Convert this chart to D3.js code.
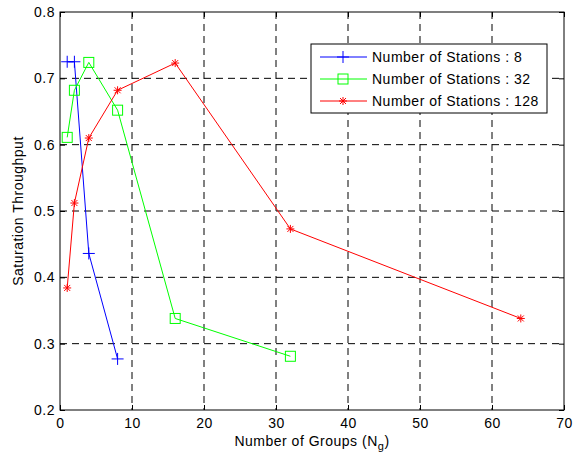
<!DOCTYPE html>
<html lang="en">
<head>
    <meta charset="UTF-8">
    <title>Saturation Throughput</title>
    <script src="https://d3js.org/d3.v7.min.js"></script>
    <style>
        body { margin: 0; background: #fff; }
        text { font-family: "Liberation Sans", Arial, sans-serif; letter-spacing: 0.5px; }
    </style>
</head>
<body>
<div id="chart"></div>
<script>
    // number of groups for each series
    var groups8 = [1, 2, 4, 8];
    var groups32 = [1, 2, 4, 8, 16, 32];
    var groups128 = [1, 2, 4, 8, 16, 32, 64];

    // saturation throughput values
    var thr8 = [0.725, 0.725, 0.436, 0.277];
    var thr32 = [0.611, 0.682, 0.724, 0.652, 0.338, 0.281];
    var thr128 = [0.384, 0.512, 0.610, 0.682, 0.723, 0.473, 0.338];

    var seriesNames = ["Number of Stations : 8", "Number of Stations : 32", "Number of Stations : 128"];
    var xTicks = [0, 10, 20, 30, 40, 50, 60, 70];
    var yTicks = [0.2, 0.3, 0.4, 0.5, 0.6, 0.7, 0.8];

    var series = [
        {name: seriesNames[0], xs: groups8, ys: thr8, color: "#0000ff", marker: "plus"},
        {name: seriesNames[1], xs: groups32, ys: thr32, color: "#00ff00", marker: "square"},
        {name: seriesNames[2], xs: groups128, ys: thr128, color: "#ff0000", marker: "star"}
    ];

    var W = 582, H = 457;
    var margin = {top: 12, right: 18, bottom: 47, left: 60};
    var width = W - margin.left - margin.right,
        height = H - margin.top - margin.bottom;

    var x = d3.scaleLinear().domain([0, 70]).range([0, width]);
    var y = d3.scaleLinear().domain([0.2, 0.8]).range([height, 0]);

    var svg = d3.select("#chart").append("svg")
        .attr("width", W)
        .attr("height", H);
    var g = svg.append("g")
        .attr("transform", "translate(" + margin.left + "," + margin.top + ")");

    // dashed grid
    g.append("g").selectAll("line").data(xTicks.slice(1, -1)).enter().append("line")
        .attr("x1", function (d) { return x(d); }).attr("x2", function (d) { return x(d); })
        .attr("y1", 0).attr("y2", height)
        .attr("stroke", "#000").attr("stroke-width", 1).attr("stroke-dasharray", "7,5");
    g.append("g").selectAll("line").data(yTicks.slice(1, -1)).enter().append("line")
        .attr("y1", function (d) { return y(d); }).attr("y2", function (d) { return y(d); })
        .attr("x1", 0).attr("x2", width)
        .attr("stroke", "#000").attr("stroke-width", 1).attr("stroke-dasharray", "7,5");

    // axes with inward ticks on all four sides
    function styleAxis(sel) {
        sel.select(".domain").remove();
        sel.selectAll("text").attr("font-size", 14).attr("fill", "#000")
            .attr("font-family", "Liberation Sans, Arial, sans-serif");
        sel.selectAll("line").attr("stroke", "#000");
    }
    g.append("g").attr("transform", "translate(0," + height + ")")
        .call(d3.axisBottom(x).tickValues(xTicks).tickSize(-5).tickPadding(8).tickFormat(d3.format("d")))
        .call(styleAxis);
    g.append("g")
        .call(d3.axisLeft(y).tickValues(yTicks).tickSize(-5).tickPadding(5).tickFormat(d3.format(".1f")))
        .call(styleAxis);
    g.append("g")
        .call(d3.axisTop(x).tickValues(xTicks).tickSize(-5).tickFormat(""))
        .call(styleAxis);
    g.append("g").attr("transform", "translate(" + width + ",0)")
        .call(d3.axisRight(y).tickValues(yTicks).tickSize(-5).tickFormat(""))
        .call(styleAxis);

    g.append("rect").attr("width", width).attr("height", height)
        .attr("fill", "none").attr("stroke", "#000").attr("stroke-width", 1);

    // markers
    function drawMarker(sel, type, color) {
        if (type === "plus") {
            sel.append("path").attr("d", "M-6,0H6M0,-6V6");
        } else if (type === "square") {
            sel.append("rect").attr("x", -5).attr("y", -5).attr("width", 10).attr("height", 10);
        } else {
            sel.append("path").attr("d", "M-4,0H4M0,-4V4M-3,-3L3,3M-3,3L3,-3");
        }
        sel.selectAll("path,rect").attr("fill", "none").attr("stroke", color).attr("stroke-width", 1);
    }

    var line = d3.line()
        .x(function (d) { return x(d[0]); })
        .y(function (d) { return y(d[1]); });

    series.forEach(function (s) {
        var pts = s.xs.map(function (v, i) { return [v, s.ys[i]]; });
        g.append("path").datum(pts)
            .attr("d", line)
            .attr("fill", "none").attr("stroke", s.color).attr("stroke-width", 1);
        pts.forEach(function (p) {
            var m = g.append("g").attr("transform", "translate(" + x(p[0]) + "," + y(p[1]) + ")");
            drawMarker(m, s.marker, s.color);
        });
    });

    // legend
    var lg = svg.append("g").attr("transform", "translate(311,44)");
    lg.append("rect").attr("width", 236).attr("height", 69)
        .attr("fill", "#fff").attr("stroke", "#000").attr("stroke-width", 1);
    series.forEach(function (s, i) {
        var yy = 13 + i * 22;
        lg.append("line").attr("x1", 9).attr("x2", 56).attr("y1", yy).attr("y2", yy)
            .attr("stroke", s.color).attr("stroke-width", 1);
        var m = lg.append("g").attr("transform", "translate(32," + yy + ")");
        drawMarker(m, s.marker, s.color);
        lg.append("text").attr("x", 61).attr("y", yy + 5)
            .attr("font-size", 14).text(s.name);
    });

    // axis labels
    var xl = svg.append("text")
        .attr("x", margin.left + width / 2).attr("y", 446)
        .attr("text-anchor", "middle").attr("font-size", 14);
    xl.append("tspan").text("Number of Groups (N");
    xl.append("tspan").attr("font-size", 11).attr("dy", 4).text("g");
    xl.append("tspan").attr("dy", -4).text(")");

    svg.append("text")
        .attr("transform", "translate(23," + (margin.top + height / 2) + ") rotate(-90)")
        .attr("text-anchor", "middle").attr("font-size", 14)
        .text("Saturation Throughput");
</script>
</body>
</html>
